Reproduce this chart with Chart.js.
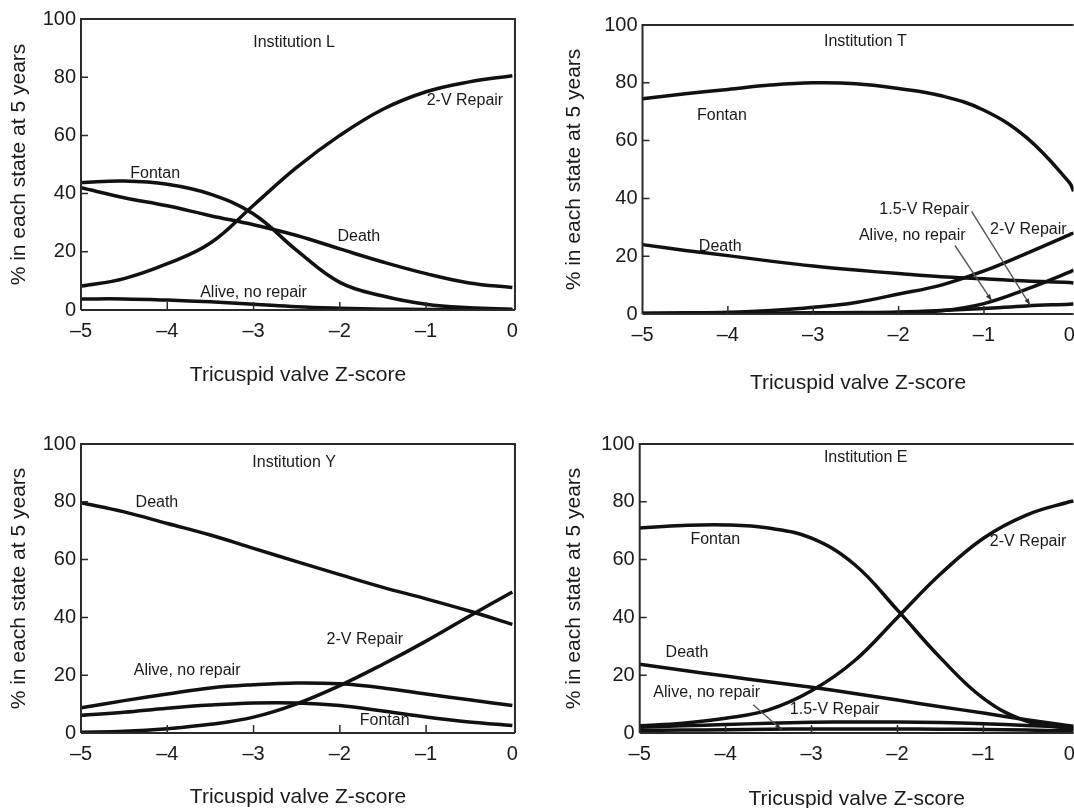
<!DOCTYPE html>
<html>
<head>
<meta charset="utf-8">
<script src="https://cdn.jsdelivr.net/npm/chart.js@4.4.1/dist/chart.umd.min.js"></script>
<style>
  html, body { margin: 0; padding: 0; background: #fff; overflow: hidden; width: 1074px; height: 808px; position: relative; }
  canvas { position: absolute; }
</style>
</head>
<body>
<canvas id="panelL"></canvas>
<canvas id="panelT"></canvas>
<canvas id="panelY"></canvas>
<canvas id="panelE"></canvas>
<script>
// tricuspid valve Z-score, sampled every half unit
const zScores = [-5, -4.5, -4, -3.5, -3, -2.5, -2, -1.5, -1, -0.5, 0];
// right-hand panels run a little past 0 before the picture is cut
const zScoresEdge = [-5, -4.5, -4, -3.5, -3, -2.5, -2, -1.5, -1, -0.5, 0, 0.05];
const xTickValues = [-5, -4, -3, -2, -1, 0];
const yTickValues = [0, 20, 40, 60, 80, 100];

// Institution L
const L_twoV   = [8.2, 10.8, 15.9, 23, 36, 49, 60, 69, 75, 78.4, 80.5];
const L_fontan = [43.8, 44.3, 43.2, 39.8, 33, 20.5, 9.5, 4.8, 2, 0.8, 0.3];
const L_death  = [42, 38.6, 35.8, 32.4, 29.3, 25.6, 21, 16.5, 12.5, 9.3, 7.7];
const L_alive  = [3.8, 3.8, 3.4, 2.8, 2, 1.1, 0.6, 0.3, 0.2, 0.1, 0.1];

// Institution T
const T_fontan = [74.5, 76.2, 77.7, 79.2, 80, 79.7, 78, 75.5, 70.5, 61, 45.5, 42.5];
const T_death  = [24, 22, 20.2, 18.3, 16.6, 15.2, 14, 12.9, 12.2, 11.4, 10.9, 10.7];
const T_twoV   = [0.3, 0.4, 0.6, 1.2, 2.3, 4, 6.9, 10, 14.9, 21, 27.4, 28];
const T_alive  = [0.1, 0.1, 0.2, 0.2, 0.3, 0.3, 0.4, 1.1, 3.6, 8.6, 14.5, 15.2];
const T_onePt5 = [0.2, 0.2, 0.3, 0.3, 0.4, 0.5, 0.7, 1.2, 1.9, 2.8, 3.4, 3.5];

// Institution Y
const Y_death  = [79.7, 76.5, 72.5, 68.5, 63.9, 59.3, 54.8, 50.4, 46.4, 42.2, 37.6];
const Y_twoV   = [0.3, 0.6, 1.5, 3, 5.5, 10.1, 16.4, 23.8, 31.8, 40.4, 48.8];
const Y_alive  = [8.7, 11.2, 13.5, 15.6, 16.7, 17.3, 17, 15.6, 13.5, 11.5, 9.5];
const Y_fontan = [6.1, 7.2, 8.6, 9.7, 10.4, 10.4, 9.5, 7.6, 5.5, 3.8, 2.6];

// Institution E
const E_fontan = [70.9, 71.8, 72, 70.9, 67.4, 58.3, 42.5, 26, 12, 4.1, 1.6, 1.4];
const E_twoV   = [2.5, 3.4, 5.1, 8, 14.6, 25, 40, 55, 67.4, 75.4, 80, 80.3];
const E_death  = [23.8, 21.7, 19.7, 17.7, 15.8, 13.7, 11.4, 9.1, 6.9, 4.6, 2.5, 2.3];
const E_onePt5 = [2, 2.5, 2.9, 3.4, 3.7, 3.8, 3.8, 3.6, 3.2, 2.6, 2, 1.9];
const E_alive  = [0.9, 1, 1.1, 1.3, 1.4, 1.4, 1.4, 1.3, 1.2, 1, 0.8, 0.8];

// text inside the plots, placed in data units [z, %]
const L_notes = [["Institution L", -2.53, 92], ["2-V Repair", -0.55, 72], ["Fontan", -4.14, 47],
                 ["Death", -1.78, 25.2], ["Alive, no repair", -3.0, 5.9]];
const T_notes = [["Institution T", -2.39, 94.3], ["Fontan", -4.07, 68.6], ["1.5-V Repair", -1.70, 36.2],
                 ["Alive, no repair", -1.84, 27.1], ["2-V Repair", -0.48, 29.1], ["Death", -4.09, 23.4]];
const Y_notes = [["Institution Y", -2.53, 93.5], ["Death", -4.12, 79.7], ["2-V Repair", -1.71, 32.4],
                 ["Alive, no repair", -3.77, 21.5], ["Fontan", -1.48, 4.4]];
const E_notes = [["Institution E", -2.37, 95.4], ["Fontan", -4.12, 67], ["2-V Repair", -0.48, 66.3],
                 ["Death", -4.45, 27.7], ["Alive, no repair", -4.22, 13.9], ["1.5-V Repair", -2.73, 8.2]];
// leader lines [fromZ, fromPct, toZ, toPct]
const T_leaders = [[-1.34, 23.7, -0.91, 4.6], [-1.145, 35.5, -0.46, 3.1]];
const E_leaders = [[-3.68, 9.8, -3.35, 1.2]];

const FONT = "'Liberation Sans', Arial, Helvetica, sans-serif";
const INK = '#1a1a1a';

function fmtZ(v) {
  return v < 0 ? '\u2013' + Math.abs(v) : String(v);
}

// frame, inward ticks, in-plot text and leader lines
const panelDecor = {
  id: 'panelDecor',
  afterDatasetsDraw(chart, args, opts) {
    const {ctx, chartArea: a, scales: {x, y}} = chart;
    ctx.save();
    ctx.strokeStyle = '#2a2a2a';
    ctx.lineWidth = 2;
    ctx.beginPath();
    ctx.moveTo(a.left, a.bottom);
    ctx.lineTo(a.left, a.top);
    ctx.lineTo(a.right, a.top);
    if (opts.rightBorder) ctx.lineTo(a.right, a.bottom);
    ctx.moveTo(a.left, a.bottom);
    ctx.lineTo(a.right, a.bottom);
    ctx.stroke();

    ctx.lineWidth = 1.5;
    ctx.beginPath();
    for (const v of xTickValues.slice(1, -1)) {
      const px = x.getPixelForValue(v);
      ctx.moveTo(px, a.bottom);
      ctx.lineTo(px, a.bottom - 8);
    }
    for (const v of yTickValues.slice(1, -1)) {
      const py = y.getPixelForValue(v);
      ctx.moveTo(a.left, py);
      ctx.lineTo(a.left + 7, py);
    }
    ctx.stroke();

    ctx.strokeStyle = '#555';
    ctx.fillStyle = '#333';
    ctx.lineWidth = 1.4;
    for (const [z1, p1, z2, p2] of opts.leaders) {
      const x1 = x.getPixelForValue(z1), y1 = y.getPixelForValue(p1);
      const x2 = x.getPixelForValue(z2), y2 = y.getPixelForValue(p2);
      ctx.beginPath();
      ctx.moveTo(x1, y1);
      ctx.lineTo(x2, y2);
      ctx.stroke();
      const ang = Math.atan2(y2 - y1, x2 - x1);
      ctx.beginPath();
      ctx.moveTo(x2, y2);
      ctx.lineTo(x2 - 7 * Math.cos(ang - 0.35), y2 - 7 * Math.sin(ang - 0.35));
      ctx.lineTo(x2 - 7 * Math.cos(ang + 0.35), y2 - 7 * Math.sin(ang + 0.35));
      ctx.closePath();
      ctx.fill();
    }

    ctx.fillStyle = INK;
    ctx.font = '16px ' + FONT;
    ctx.textAlign = 'center';
    ctx.textBaseline = 'middle';
    for (const [text, z, p] of opts.notes) {
      ctx.fillText(text, x.getPixelForValue(z), y.getPixelForValue(p));
    }
    ctx.restore();
  }
};

function makePanel(id, box, xs, series, notes, leaders) {
  const canvas = document.getElementById(id);
  canvas.width = box.width;
  canvas.height = box.height;
  canvas.style.left = box.left + 'px';
  canvas.style.top = box.top + 'px';

  return new Chart(canvas, {
    type: 'line',
    data: {
      datasets: series.map(vals => ({
        data: vals.map((v, i) => ({x: xs[i], y: v})),
        borderColor: '#111',
        borderWidth: 3.5,
        pointRadius: 0,
        fill: false,
        tension: 0.4
      }))
    },
    options: {
      responsive: false,
      animation: false,
      devicePixelRatio: 1,
      layout: {padding: {top: 15, right: 10, left: 0, bottom: 0}},
      plugins: {
        legend: {display: false},
        tooltip: {enabled: false},
        panelDecor: {notes: notes, leaders: leaders, rightBorder: box.rightBorder}
      },
      scales: {
        x: {
          type: 'linear',
          min: -5,
          max: box.xMax,
          afterBuildTicks: s => { s.ticks = xTickValues.map(v => ({value: v})); },
          afterFit: s => { s.height = box.xHeight; },
          grid: {display: false, drawTicks: false},
          border: {display: false},
          ticks: {
            color: INK, padding: 9, maxRotation: 0, autoSkip: false,
            font: {family: FONT, size: 20},
            callback: v => fmtZ(v)
          },
          title: {
            display: true, text: 'Tricuspid valve Z-score', color: INK,
            font: {family: FONT, size: 21},
            padding: {top: 0, bottom: box.xTitlePad}
          }
        },
        y: {
          type: 'linear',
          min: 0,
          max: 100,
          afterBuildTicks: s => { s.ticks = yTickValues.map(v => ({value: v})); },
          afterFit: s => { s.width = box.yWidth; },
          grid: {display: false, drawTicks: false},
          border: {display: false},
          ticks: {
            color: INK, padding: 5, autoSkip: false,
            font: {family: FONT, size: 20}
          },
          title: {
            display: true, text: '% in each state at 5 years', color: INK,
            font: {family: FONT, size: 21},
            padding: {top: box.yTitlePad, bottom: 0}
          }
        }
      }
    },
    plugins: [panelDecor]
  });
}

makePanel('panelL',
  {left: 0, top: 2, width: 527, height: 388, yWidth: 81, xHeight: 80, yTitlePad: 6.4, xTitlePad: 2.4, xMax: 0.03, rightBorder: true},
  zScores, [L_twoV, L_fontan, L_death, L_alive], L_notes, []);

makePanel('panelT',
  {left: 537, top: 8, width: 547, height: 390, yWidth: 105.5, xHeight: 84, yTitlePad: 25.1, xTitlePad: 2.4, xMax: 0.05, rightBorder: false},
  zScoresEdge, [T_fontan, T_death, T_twoV, T_alive, T_onePt5], T_notes, T_leaders);

makePanel('panelY',
  {left: 0, top: 427, width: 527, height: 385, yWidth: 81, xHeight: 79, yTitlePad: 6.4, xTitlePad: 2.4, xMax: 0.03, rightBorder: true},
  zScores, [Y_death, Y_twoV, Y_alive, Y_fontan], Y_notes, []);

makePanel('panelE',
  {left: 537, top: 427, width: 547, height: 387, yWidth: 102.7, xHeight: 81, yTitlePad: 25.1, xTitlePad: 2.4, xMax: 0.05, rightBorder: false},
  zScoresEdge, [E_fontan, E_twoV, E_death, E_onePt5, E_alive], E_notes, E_leaders);
</script>
</body>
</html>
